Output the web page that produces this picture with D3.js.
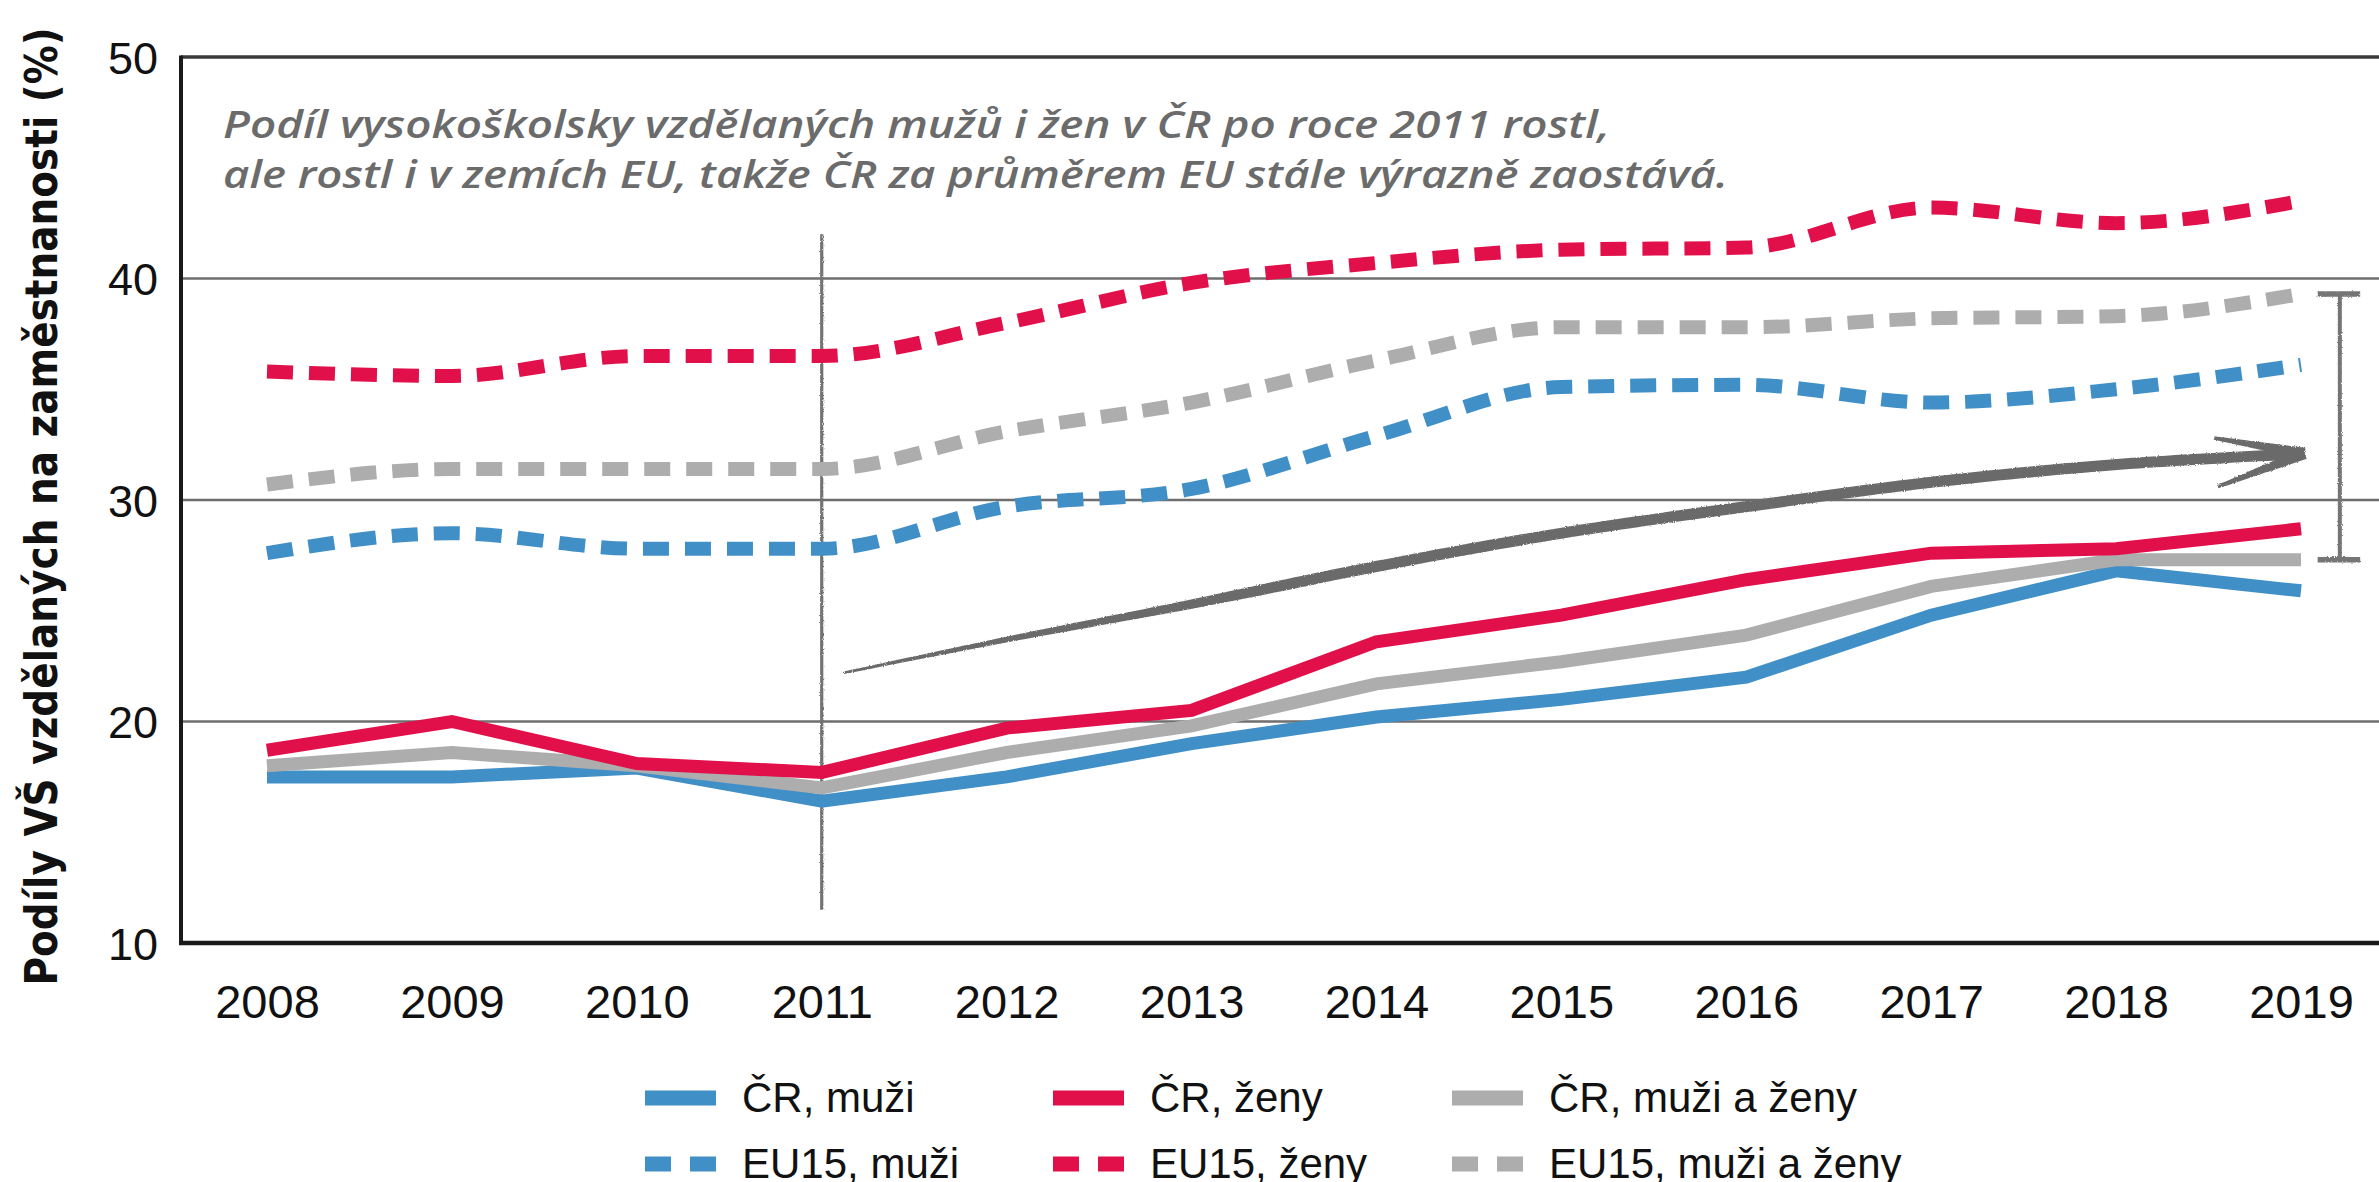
<!DOCTYPE html>
<html>
<head>
<meta charset="utf-8">
<script src="https://cdn.jsdelivr.net/npm/d3@7"></script>
<style>
  html, body { margin: 0; padding: 0; background: #ffffff; }
  svg { display: block; }
</style>
</head>
<body>
<div id="chart"></div>
<script>
// ---------------- DATA ----------------
const years = [2008, 2009, 2010, 2011, 2012, 2013, 2014, 2015, 2016, 2017, 2018, 2019];
const crMuzi       = [17.5, 17.5, 17.9, 16.4, 17.5, 19.0, 20.2, 21.0, 22.0, 24.8, 26.8, 25.9];
const crZeny       = [18.7, 20.0, 18.1, 17.7, 19.7, 20.5, 23.6, 24.8, 26.4, 27.6, 27.8, 28.7];
const crMuziZeny   = [18.0, 18.6, 18.0, 17.0, 18.6, 19.8, 21.7, 22.7, 23.9, 26.1, 27.3, 27.3];
const euMuzi       = [27.6, 28.5, 27.8, 27.8, 29.7, 30.5, 32.9, 35.1, 35.2, 34.4, 35.0, 36.1];
const euZeny       = [35.8, 35.6, 36.5, 36.5, 38.0, 39.8, 40.7, 41.3, 41.4, 43.2, 42.5, 43.5];
const euMuziZeny   = [30.7, 31.4, 31.4, 31.4, 33.1, 34.4, 36.3, 37.8, 37.8, 38.2, 38.3, 39.3];

const yTicks = [10, 20, 30, 40, 50];
const yTitle = "Podíly VŠ vzdělaných na zaměstnanosti (%)";
const noteLines = [
  "Podíl vysokoškolsky vzdělaných mužů i žen v ČR po roce 2011 rostl,",
  "ale rostl i v zemích EU, takže ČR za průměrem EU stále výrazně zaostává."
];
const legendLabels = ["ČR, muži", "ČR, ženy", "ČR, muži a ženy", "EU15, muži", "EU15, ženy", "EU15, muži a ženy"];

// annotation geometry in data space (year, value)
const markerYear = 2011;
const markerRange = [11.5, 42.0];
const trendArrow = [[2011.12, 22.2], [2012, 23.7], [2013, 25.3], [2014, 27.0], [2015, 28.5],
                    [2016, 29.7], [2017, 30.8], [2018, 31.6], [2019.02, 32.1]];
const arrowBarbs = [[2018.53, 32.8], [2018.55, 30.6]];
const bracketYear = 2019.21;
const bracketCap = [2019.09, 2019.32];

// ---------------- STYLE / LAYOUT ----------------
const W = 2379, H = 1182;
const plotLeft = 181, plotRight = 2379;
const C_BLUE = "#418fc7", C_RED = "#e10f4a", C_GREY = "#adadad", C_DARK = "#6b6b6b";

const series = [
  { label: legendLabels[0], values: crMuzi,     color: C_BLUE, dashed: false },
  { label: legendLabels[1], values: crZeny,     color: C_RED,  dashed: false },
  { label: legendLabels[2], values: crMuziZeny, color: C_GREY, dashed: false },
  { label: legendLabels[3], values: euMuzi,     color: C_BLUE, dashed: true },
  { label: legendLabels[4], values: euZeny,     color: C_RED,  dashed: true },
  { label: legendLabels[5], values: euMuziZeny, color: C_GREY, dashed: true }
];

const x = d3.scaleLinear().domain([2008, 2019]).range([267, 2301]);
const y = d3.scaleLinear().domain([10, 50]).range([943, 57]);

const svg = d3.select("#chart").append("svg")
  .attr("width", W).attr("height", H)
  .attr("viewBox", `0 0 ${W} ${H}`);

svg.append("rect").attr("width", W).attr("height", H).attr("fill", "#fff");

const defs = svg.append("defs");
const f = defs.append("filter").attr("id", "rough")
  .attr("filterUnits", "userSpaceOnUse").attr("x", 0).attr("y", 0).attr("width", W).attr("height", H);
f.append("feTurbulence").attr("type", "fractalNoise").attr("baseFrequency", 0.9)
  .attr("numOctaves", 2).attr("seed", 4).attr("result", "noise");
f.append("feDisplacementMap").attr("in", "SourceGraphic").attr("in2", "noise")
  .attr("scale", 2.6).attr("xChannelSelector", "R").attr("yChannelSelector", "G");

// ---------------- GRID & AXES ----------------
const grid = svg.append("g");
grid.selectAll("line.grid").data([20, 30, 40]).join("line")
  .attr("class", "grid")
  .attr("x1", plotLeft).attr("x2", plotRight)
  .attr("y1", d => y(d)).attr("y2", d => y(d))
  .attr("stroke", "#6e6e6e").attr("stroke-width", 2.5);
grid.append("line")
  .attr("x1", plotLeft).attr("x2", plotRight).attr("y1", y(50)).attr("y2", y(50))
  .attr("stroke", "#3a3a3a").attr("stroke-width", 3.5);

const yAxis = svg.append("g").attr("transform", `translate(${plotLeft - 20},0)`)
  .call(d3.axisLeft(y).tickValues(yTicks).tickSize(0).tickPadding(3).tickFormat(d3.format("d")));
yAxis.select(".domain").remove();
yAxis.selectAll("text")
  .attr("font-family", "'Liberation Sans', Arial, sans-serif")
  .attr("font-size", 45).attr("fill", "#111").attr("dy", "0.36em");

const xAxis = svg.append("g").attr("transform", "translate(0,1018)")
  .call(d3.axisBottom(x).tickValues(years).tickSize(0).tickFormat(d3.format("d")));
xAxis.select(".domain").remove();
xAxis.selectAll("text")
  .attr("y", 0).attr("dy", 0)
  .attr("font-family", "'Liberation Sans', Arial, sans-serif")
  .attr("font-size", 47).attr("fill", "#111");

// axis frame
svg.append("line").attr("x1", plotLeft).attr("x2", plotLeft).attr("y1", y(50) - 1.5).attr("y2", y(10) + 2)
  .attr("stroke", "#1a1a1a").attr("stroke-width", 4);
svg.append("line").attr("x1", plotLeft - 2).attr("x2", plotRight).attr("y1", y(10)).attr("y2", y(10))
  .attr("stroke", "#1a1a1a").attr("stroke-width", 4.5);

// y title
svg.append("text")
  .attr("transform", `translate(57,${(27 + 986) / 2}) rotate(-90)`)
  .attr("text-anchor", "middle")
  .attr("font-family", "'DejaVu Sans', Verdana, sans-serif")
  .attr("font-weight", "bold").attr("font-size", 44)
  .attr("textLength", 958).attr("lengthAdjust", "spacingAndGlyphs")
  .attr("fill", "#111")
  .text(yTitle);

// ---------------- ANNOTATION TEXT ----------------
const noteWidths = [1387, 1505];
svg.append("g").selectAll("text").data(noteLines).join("text")
  .attr("x", 223).attr("y", (d, i) => 138 + i * 49.5)
  .attr("font-family", "'Open Sans', 'DejaVu Sans', sans-serif")
  .attr("font-style", "italic").attr("font-weight", 600).attr("font-size", 38)
  .attr("textLength", (d, i) => noteWidths[i]).attr("lengthAdjust", "spacingAndGlyphs")
  .attr("fill", C_DARK)
  .text(d => d);

// ---------------- MARKER LINE 2011 ----------------
svg.append("line")
  .attr("x1", x(markerYear)).attr("x2", x(markerYear))
  .attr("y1", y(markerRange[1])).attr("y2", y(markerRange[0]))
  .attr("stroke", "#737373").attr("stroke-width", 3.2)
  .attr("filter", "url(#rough)");

// ---------------- SERIES ----------------
const lineSolid = d3.line().x((d, i) => x(years[i])).y(d => y(d));
const lineSmooth = d3.line().x((d, i) => x(years[i])).y(d => y(d)).curve(d3.curveMonotoneX);

const order = [3, 5, 4, 0, 2, 1]; // draw dashed first, then CR lines
svg.append("g").selectAll("path").data(order.map(i => series[i])).join("path")
  .attr("d", s => (s.dashed ? lineSmooth : lineSolid)(s.values))
  .attr("fill", "none")
  .attr("stroke", s => s.color)
  .attr("stroke-width", s => s.dashed ? 14 : 13)
  .attr("stroke-dasharray", s => s.dashed ? "26 16" : null)
  .attr("stroke-linejoin", "miter");

// ---------------- TREND ARROW (tapered, sketchy) ----------------
function taperedPolygon(pathD, wFn, n) {
  const tmp = svg.append("path").attr("d", pathD).attr("fill", "none");
  const node = tmp.node();
  const L = node.getTotalLength();
  const pts = [];
  for (let k = 0; k <= n; k++) {
    const p = node.getPointAtLength(L * k / n);
    pts.push([p.x, p.y]);
  }
  tmp.remove();
  const left = [], right = [];
  for (let k = 0; k <= n; k++) {
    const a = pts[Math.max(0, k - 1)], b = pts[Math.min(n, k + 1)];
    let dx = b[0] - a[0], dy = b[1] - a[1];
    const len = Math.hypot(dx, dy) || 1;
    const nx = -dy / len, ny = dx / len;
    const w = wFn(k / n) / 2;
    left.push([pts[k][0] + nx * w, pts[k][1] + ny * w]);
    right.push([pts[k][0] - nx * w, pts[k][1] - ny * w]);
  }
  return "M" + left.map(p => p.join(",")).join("L") + "L" + right.reverse().map(p => p.join(",")).join("L") + "Z";
}
const arrowG = svg.append("g").attr("filter", "url(#rough)");
const arrowPath = d3.line().x(d => x(d[0])).y(d => y(d[1])).curve(d3.curveCatmullRom)(trendArrow);
arrowG.append("path")
  .attr("d", taperedPolygon(arrowPath, t => 2.5 + 8.5 * Math.min(1, t / 0.3), 160))
  .attr("fill", C_DARK);
const tip = trendArrow[trendArrow.length - 1];
arrowBarbs.forEach(b => {
  const d = d3.line().x(p => x(p[0])).y(p => y(p[1]))([b, tip]);
  arrowG.append("path")
    .attr("d", taperedPolygon(d, t => 3.5 + 8 * t, 30))
    .attr("fill", C_DARK);
});

// ---------------- RANGE BRACKET ----------------
const yTop = y(euMuziZeny[euMuziZeny.length - 1]);
const yBot = y(crMuziZeny[crMuziZeny.length - 1]);
const br = svg.append("g").attr("filter", "url(#rough)").attr("stroke", "#747474");
br.append("line").attr("x1", x(bracketYear)).attr("x2", x(bracketYear))
  .attr("y1", yTop).attr("y2", yBot).attr("stroke-width", 4);
[yTop, yBot].forEach(yy => {
  br.append("line").attr("x1", x(bracketCap[0])).attr("x2", x(bracketCap[1]))
    .attr("y1", yy).attr("y2", yy).attr("stroke-width", 5.5);
});

// ---------------- LEGEND ----------------
const legCols = [645, 1053, 1452];
const legRows = [1098, 1164];
const legend = svg.append("g");
series.forEach((s, i) => {
  const col = i % 3, row = Math.floor(i / 3);
  const gx = legCols[col], gy = legRows[row];
  legend.append("line")
    .attr("x1", gx).attr("x2", gx + 71).attr("y1", gy).attr("y2", gy)
    .attr("stroke", s.color).attr("stroke-width", 15)
    .attr("stroke-dasharray", s.dashed ? "26 19" : null);
  legend.append("text")
    .attr("x", gx + 97).attr("y", gy + 14)
    .attr("font-family", "'Liberation Sans', Arial, sans-serif")
    .attr("font-size", 42).attr("fill", "#111")
    .text(s.label);
});
</script>
</body>
</html>
